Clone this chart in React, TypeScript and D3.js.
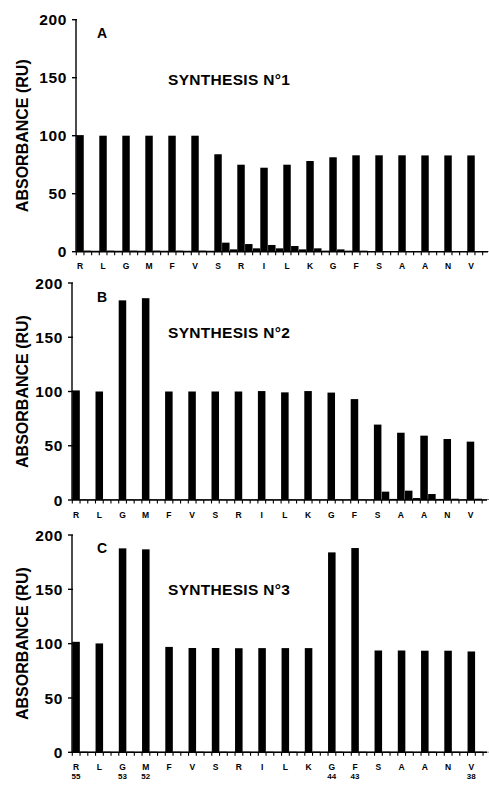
import React from "react";
import * as d3 from "d3";

// ---- data ----
const residues = ["R", "L", "G", "M", "F", "V", "S", "R", "I", "L", "K", "G", "F", "S", "A", "A", "N", "V"];
const positionNumbers = ["55", "", "53", "52", "", "", "", "", "", "", "", "44", "43", "", "", "", "", "38"];
const yTicks = [0, 50, 100, 150, 200];

const synth1Main = [100.5, 100, 100, 100, 100, 100, 84, 75, 72.4, 75, 78.2, 81.4, 83.1, 83.1, 83.1, 83, 83, 83];
const synth1Second = [1, 1, 1, 1, 1, 1, 7.8, 6.6, 5.8, 4.9, 2.9, 2.0, 0.9, 0.5, 0.5, 0.5, 0.5, 0.5];
const synth1Third = [0.8, 0.8, 0.8, 0.8, 0.8, 0.8, 2.0, 2.9, 2.9, 2.0, 0.9, 0.9, 0.3, 0.3, 0.3, 0.3, 0.3, 0.3];

const synth2Main = [101, 100, 184, 186, 100, 100, 100, 100, 100.4, 99.2, 100.4, 99, 93, 69.5, 62, 59.3, 56.2, 53.8];
const synth2Second = [0.6, 0.6, 0.6, 0.6, 0.6, 0.6, 0.6, 0.6, 0.6, 0.6, 0.6, 0.6, 0.6, 7.7, 8.6, 5.5, 1.2, 1.2];
const synth2Third = [0.5, 0.5, 0.5, 0.5, 0.5, 0.5, 0.5, 0.5, 0.5, 0.5, 0.5, 0.5, 0.5, 1.0, 1.8, 1.0, 0.5, 0.5];

const synth3Main = [101.7, 100.2, 187.7, 186.8, 97, 96, 96, 95.8, 95.9, 95.9, 95.9, 184, 188, 93.7, 93.7, 93.5, 93.5, 92.8];
const synth3Second = [0.6, 0.6, 0.6, 0.6, 0.6, 0.6, 0.6, 0.6, 0.6, 0.6, 0.6, 0.6, 0.6, 0.6, 0.6, 0.6, 0.6, 0.6];
const synth3Third = [0.4, 0.4, 0.4, 0.4, 0.4, 0.4, 0.4, 0.4, 0.4, 0.4, 0.4, 0.4, 0.4, 0.4, 0.4, 0.4, 0.4, 0.4];

const panelLetters = ["A", "B", "C"];
const panelTitles = ["SYNTHESIS N°1", "SYNTHESIS N°2", "SYNTHESIS N°3"];
const yAxisTitle = "ABSORBANCE (RU)";

const FONT = "'Liberation Sans', Arial, Helvetica, sans-serif";

type Layout = {
  x0: number;
  step: number;
  xEnd: number;
  yTop: number;
  yBottom: number;
  letterY: number;
  titleY: number;
};

const layouts: Layout[] = [
  { x0: 76.3, step: 23.0, xEnd: 488, yTop: 19.7, yBottom: 251.7, letterY: 38, titleY: 85 },
  { x0: 72.3, step: 23.2, xEnd: 487, yTop: 283, yBottom: 500, letterY: 302, titleY: 338 },
  { x0: 72.3, step: 23.25, xEnd: 487, yTop: 535, yBottom: 752.3, letterY: 553, titleY: 595 },
];

function Panel(props: {
  layout: Layout;
  main: number[];
  second: number[];
  third: number[];
  letter: string;
  title: string;
  numbers?: string[];
}) {
  const { layout, main, second, third, letter, title, numbers } = props;
  const idx = d3.range(residues.length);
  const x = d3
    .scaleBand<number>()
    .domain(idx)
    .range([layout.x0, layout.x0 + residues.length * layout.step])
    .paddingInner(0)
    .paddingOuter(0);
  const sub = d3.scaleBand<number>().domain([0, 1, 2]).range([0, x.bandwidth()]).paddingInner(0.04);
  const y = d3.scaleLinear().domain([0, 200]).range([layout.yBottom, layout.yTop]);
  const series = [main, second, third];
  const axisX = layout.x0 - 0.3;
  const minorTicks = d3
    .range(residues.length * 3 + 1)
    .map((k) => layout.x0 + (k * layout.step) / 3)
    .filter((v) => v <= layout.xEnd);
  const yMid = (layout.yTop + layout.yBottom) / 2;
  const labelX = (i: number) => (x(i) as number) + (sub(0) as number) + sub.bandwidth() / 2;

  return (
    <g>
      {series.map((vals, s) =>
        vals.map((v, i) => (
          <rect
            key={`${s}-${i}`}
            x={(x(i) as number) + (sub(s) as number)}
            y={y(v)}
            width={sub.bandwidth()}
            height={y(0) - y(v)}
            fill="#000"
          />
        ))
      )}
      {/* y axis */}
      <line x1={axisX} x2={axisX} y1={layout.yTop} y2={layout.yBottom} stroke="#000" strokeWidth={1.4} />
      {yTicks.map((t) => (
        <g key={t}>
          <line x1={axisX - 4} x2={axisX + 1} y1={y(t)} y2={y(t)} stroke="#000" strokeWidth={1.4} />
          <text
            x={axisX - 9}
            y={y(t)}
            dy="0.36em"
            textAnchor="end"
            fontFamily={FONT}
            fontWeight="bold"
            fontSize={15.5}
            letterSpacing={0.6}
            fill="#000"
          >
            {t}
          </text>
        </g>
      ))}
      {/* x axis */}
      <line x1={axisX} x2={layout.xEnd} y1={layout.yBottom} y2={layout.yBottom} stroke="#000" strokeWidth={1.6} />
      {minorTicks.map((tx, k) => (
        <line key={k} x1={tx} x2={tx} y1={layout.yBottom} y2={layout.yBottom + 3.5} stroke="#000" strokeWidth={1.1} />
      ))}
      {residues.map((r, i) => (
        <text
          key={i}
          x={labelX(i)}
          y={layout.yBottom + 17.5}
          textAnchor="middle"
          fontFamily={FONT}
          fontWeight="bold"
          fontSize={8.5}
          fill="#000"
        >
          {r}
        </text>
      ))}
      {numbers &&
        numbers.map((n, i) =>
          n ? (
            <text
              key={`n${i}`}
              x={labelX(i)}
              y={layout.yBottom + 27}
              textAnchor="middle"
              fontFamily={FONT}
              fontWeight="bold"
              fontSize={8}
              fill="#000"
            >
              {n}
            </text>
          ) : null
        )}
      {/* panel letter and title */}
      <text x={97} y={layout.letterY} fontFamily={FONT} fontWeight="bold" fontSize={14} fill="#000">
        {letter}
      </text>
      <text
        x={168}
        y={layout.titleY}
        fontFamily={FONT}
        fontWeight="bold"
        fontSize={15.5}
        letterSpacing={0.3}
        fill="#000"
      >
        {title}
      </text>
      <text
        transform={`translate(28,${yMid}) rotate(-90)`}
        textAnchor="middle"
        fontFamily={FONT}
        fontWeight="bold"
        fontSize={16}
        fill="#000"
      >
        {yAxisTitle}
      </text>
    </g>
  );
}

export default function App() {
  const mains = [synth1Main, synth2Main, synth3Main];
  const seconds = [synth1Second, synth2Second, synth3Second];
  const thirds = [synth1Third, synth2Third, synth3Third];
  return (
    <svg
      width={489}
      height={785}
      viewBox="0 0 489 785"
      style={{ position: "absolute", left: 0, top: 0, background: "#fff" }}
    >
      <rect x={0} y={0} width={489} height={785} fill="#fff" />
      {layouts.map((l, p) => (
        <Panel
          key={p}
          layout={l}
          main={mains[p]}
          second={seconds[p]}
          third={thirds[p]}
          letter={panelLetters[p]}
          title={panelTitles[p]}
          numbers={p === 2 ? positionNumbers : undefined}
        />
      ))}
    </svg>
  );
}
